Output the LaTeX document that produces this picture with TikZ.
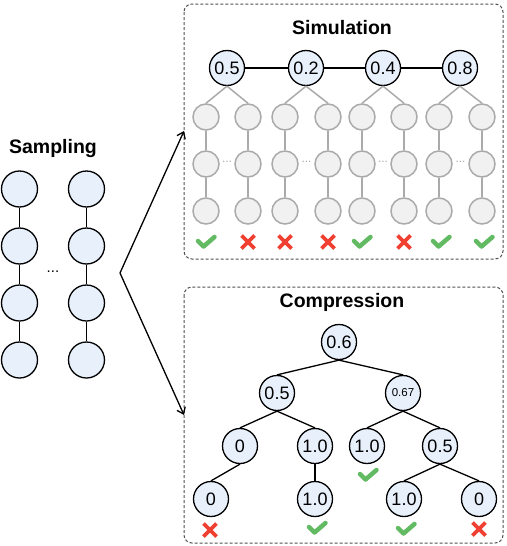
\documentclass[tikz,border=0pt]{standalone}
\usepackage{fontspec}
\setmainfont{Liberation Sans}
\usetikzlibrary{arrows.meta}
\definecolor{nodeblue}{RGB}{232,240,252}
\definecolor{gfill}{RGB}{241,241,241}
\definecolor{gline}{RGB}{170,170,170}
\definecolor{boxgray}{RGB}{80,80,80}
\definecolor{okgreen}{RGB}{98,187,98}
\definecolor{badred}{RGB}{240,64,50}
\tikzset{
  bnode/.style={circle, draw=black, line width=1.3pt, fill=nodeblue, minimum size=35pt, inner sep=0pt, font=\fontsize{18}{18}\selectfont},
  gnode/.style={circle, draw=gline, line width=1.5pt, fill=gfill, minimum size=26pt, inner sep=0pt},
  framebox/.style={draw=boxgray, dash pattern=on 3pt off 2pt, rounded corners=8pt, line width=1pt},
  titletext/.style={font=\fontsize{19.5}{21}\selectfont\bfseries, inner sep=0pt},
  bedge/.style={draw=black, line width=1.3pt},
  gedge/.style={draw=gline, line width=1.5pt},
  gdots/.style={text=gline, font=\fontsize{12}{12}\selectfont, inner sep=0pt},
  chk/.pic={\draw[okgreen, line width=4.5pt, line cap=round, line join=round] (-8,-1) -- (-2.5,4.5) -- (8.5,-5);},
  crs/.pic={\draw[badred, line width=3.6pt] (-6.5,-6.5) -- (6.5,6.5) (-6.5,6.5) -- (6.5,-6.5);}
}
\begin{document}
\begin{tikzpicture}[x=1pt,y=-1pt]
\useasboundingbox (0,0) rectangle (506,546);

% frames
\draw[framebox] (184,4) rectangle (503,259);
\draw[framebox] (184,287) rectangle (503,543);

% titles
\node[titletext] (tsim) at (342,28) {Simulation};
\node[titletext] (tcomp) at (342,302) {Compression};
\node[titletext] (tsamp) at (53,148) {Sampling};

% Sampling chains
\foreach \c/\x in {a/19.5,b/86.5}{
  \foreach \r/\y in {1/189,2/246,3/303,4/360}{
    \node[bnode, minimum size=36pt] (s\c\r) at (\x,\y) {};
  }
  \draw[bedge] (s\c1) -- (s\c2) (s\c2) -- (s\c3) (s\c3) -- (s\c4);
}
\node[font=\fontsize{15}{15}\selectfont, inner sep=0pt] (sdots) at (53,272) {...};

% arrows
\coordinate (v) at (120,273);
\coordinate (asim) at (184,131);
\coordinate (acomp) at (184,415);
\draw[line width=1.3pt, {Straight Barb[length=6pt,width=9pt]}-{Straight Barb[length=6pt,width=9pt]}] (asim) -- (v) -- (acomp);

% Simulation top nodes
\node[bnode] (p1) at (227,68) {0.5};
\node[bnode] (p2) at (306,68) {0.2};
\node[bnode] (p3) at (383,68) {0.4};
\node[bnode] (p4) at (460,68) {0.8};
\draw[bedge] (p1) -- (p2) -- (p3) -- (p4);

% gray rollouts
\foreach \k/\x in {1/206,2/248,3/285,4/328,5/362,6/404,7/439,8/482}{
  \node[gnode] (g\k a) at (\x,117) {};
  \node[gnode] (g\k b) at (\x,164) {};
  \node[gnode] (g\k c) at (\x,211) {};
  \draw[gedge] (g\k a) -- (g\k b) (g\k b) -- (g\k c);
}
\foreach \p/\l/\r in {1/1/2,2/3/4,3/5/6,4/7/8}{
  \draw[gedge] (p\p.south) -- (g\l a.north);
  \draw[gedge] (p\p.south) -- (g\r a.north);
}
\foreach \k/\x in {1/227,2/306.5,3/383,4/460.5}{
  \node[gdots] (gd\k) at (\x,162) {...};
}

% simulation marks
\pic at (206,242) {chk};
\pic at (248,242) {crs};
\pic at (285,242) {crs};
\pic at (328,242) {crs};
\pic at (362,242) {chk};
\pic at (404,242) {crs};
\pic at (441,242) {chk};
\pic at (484,242) {chk};

% Compression tree
\node[bnode] (c0) at (339,342) {0.6};
\node[bnode] (c1) at (277,393) {0.5};
\node[bnode, font=\fontsize{11.5}{12}\selectfont] (c2) at (403,393) {0.67};
\node[bnode] (c11) at (240,446) {0};
\node[bnode] (c12) at (315,446) {1.0};
\node[bnode] (c21) at (367,446) {1.0};
\node[bnode] (c22) at (440,446) {0.5};
\node[bnode] (c111) at (211,499) {0};
\node[bnode] (c121) at (315,499) {1.0};
\node[bnode] (c221) at (404,499) {1.0};
\node[bnode] (c222) at (479,499) {0};
\draw[bedge] (c0.south) -- (c1.north);
\draw[bedge] (c0.south) -- (c2.north);
\draw[bedge] (c1.south) -- (c11.north);
\draw[bedge] (c1.south) -- (c12.north);
\draw[bedge] (c2.south) -- (c21.north);
\draw[bedge] (c2.south) -- (c22.north);
\draw[bedge] (c11.south) -- (c111.north);
\draw[bedge] (c12.south) -- (c121.north);
\draw[bedge] (c22.south) -- (c221.north);
\draw[bedge] (c22.south) -- (c222.north);

% compression marks
\pic at (210,530) {crs};
\pic at (317,528) {chk};
\pic at (368,475) {chk};
\pic at (406,529) {chk};
\pic at (479,529) {crs};
\end{tikzpicture}
\end{document}
